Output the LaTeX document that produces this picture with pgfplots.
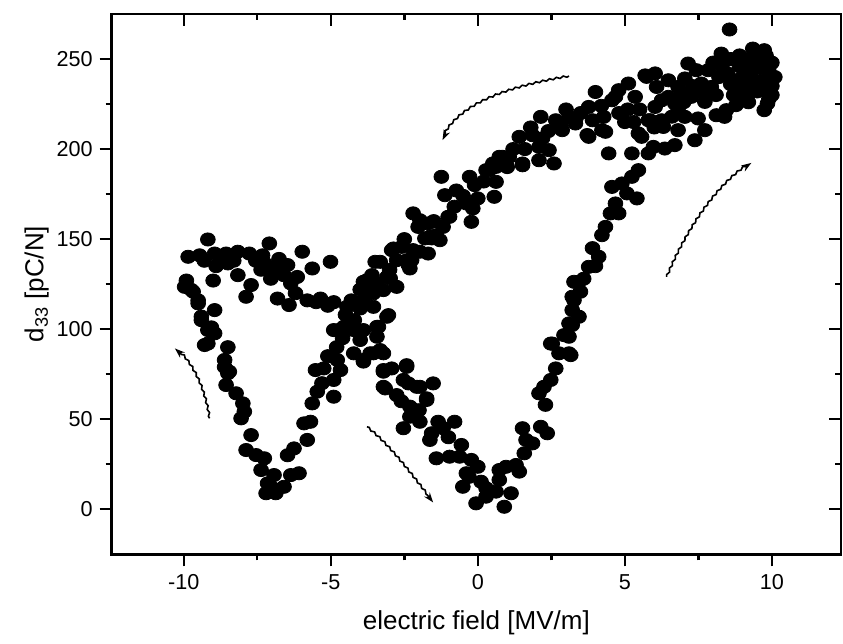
\documentclass[border=0pt]{standalone}
\usepackage{fontspec}
\setmainfont{Liberation Sans}
\usepackage{pgfplots}
\pgfplotsset{compat=1.18}
\usetikzlibrary{decorations.pathmorphing,arrows.meta}

\pgfplotsset{
  base/.style={
    width=364.65pt, height=270.15pt, scale only axis,
    xmin=-12.45, xmax=12.35, ymin=-25, ymax=275,
    xtick={-10,-5,...,10}, ytick={0,50,...,250},
    minor x tick num=1, minor y tick num=1,
    major tick length=6pt, minor tick length=3pt,
    every tick/.style={black, line width=1.2pt},
    axis line style={line width=1.2pt},
    /pgf/number format/assume math mode=true,
    tick label style={font=\fontsize{10.8}{12}\selectfont},
    label style={font=\fontsize{13}{15}\selectfont},
  },
}
\tikzset{
  wavy/.style={line width=0.8pt, -{Stealth[length=5pt,width=3.5pt]},
    decorate, decoration={snake, amplitude=0.45pt, segment length=3.5pt, post length=3pt}},
}

\begin{document}
\begin{tikzpicture}
\begin{axis}[base,
  tick align=outside, xtick pos=left, ytick pos=left,
  xlabel={electric field [MV/m]},
  ylabel={d\textsubscript{33} [pC/N]},
  xticklabel style={yshift=-0.5pt},
  xlabel style={yshift=-3.5pt},
  ylabel style={yshift=-3pt},
]
\addplot[only marks, mark=*, mark size=3.3pt, mark options={xscale=1.12, fill=black, draw=black}] coordinates {
% left loop, upper branch
(-9.18,149.8)(-9.85,140.2)(-9.46,141)(-8.95,142)(-8.56,142)(-8.16,143)(-7.77,142)(-8.5,136.5)
(-8.16,130)(-8.78,137)(-7.09,147.6)(-7.32,141)(-7.37,133)(-7.04,128)(-6.76,139)(-6.47,135.6)
(-5.97,143)(-5.63,133.7)(-5.01,137.4)(-7.71,124.5)(-7.88,118)(-6.81,117)(-6.36,125.4)(-6.14,129)
(-6.42,113.4)(-5.8,116)(-5.35,117)(-4.9,115)(-4.45,112.4)(-4.0,111.5)(-9.0,127)(-9.3,138)
(-8.9,135)(-8.3,138)(-7.55,138)(-7.2,136)(-6.9,133)(-6.6,130)(-6.2,120)(-5.5,115)(-5.1,113)
% left loop, descending
(-9.91,127)(-9.97,123.5)(-9.74,121.8)(-9.68,120.8)(-9.51,116)(-9.51,114.3)(-9.4,107)(-9.4,105)
(-9.06,101)(-8.95,110.6)(-9.18,92)(-9.18,99.5)(-9.29,91.2)(-8.95,97.7)(-8.5,90)(-8.61,82.9)
(-8.61,79)(-8.5,75.5)(-8.45,76.4)(-8.56,69)(-8.22,64.4)(-7.99,58.8)(-7.94,54.2)(-8.05,50.5)
(-7.71,41.2)(-7.88,32.9)(-7.54,30.1)(-7.26,28.3)(-7.37,21.8)(-6.93,19)(-7.15,14.4)(-7.2,8.9)
(-6.87,8.9)(-6.59,12.5)(-7.0,12)
% left loop, ascending
(-6.36,19)(-6.08,20)(-6.47,30)(-6.25,33.8)(-5.8,38.5)(-5.91,47.7)(-5.69,48.6)(-5.63,58.8)
(-5.46,65.3)(-4.9,62.5)(-4.9,71.8)(-5.52,77.3)(-5.24,78.2)(-4.67,77.3)(-3.89,82)(-5.3,70)
(-5.1,85)(-4.8,90)(-4.6,95)
% crossing
(-4.73,99.5)(-4.33,101)(-3.89,99.5)(-4.78,82.9)(-4.9,99.5)(-4.56,101.3)(-4.22,99.5)(-4.0,94)
(-4.22,86.6)(-3.89,82.9)(-3.55,86.6)(-3.21,86.6)(-3.43,95.8)(-3.09,106.9)(-3.43,101.3)(-3.66,86.6)
(-3.32,88.4)(-3.38,101.3)(-3.89,116.1)(-3.04,107.8)(-3.55,112.4)(-3.55,119.9)(-4.2,105)(-4.5,108)
(-4.0,122)(-4.3,116)
% rising branch
(-3.49,137.4)(-3.77,126)(-3.89,126.3)(-3.43,125.4)(-3.09,129)(-2.98,128.2)(-2.76,123.5)(-3.21,121.7)
(-3.77,127.2)(-3.32,137.4)(-2.76,138.3)(-2.36,135.6)(-2.93,143.9)(-2.59,145.7)(-2.2,143.9)(-1.69,142)
(-1.8,150.4)(-2.03,156.8)(-1.97,160.5)(-2.2,164.3)(-1.57,150.4)(-1.41,152.2)(-1.18,156.8)(-1.01,162.4)
(-1.24,184.6)(-0.73,177)(-1.12,174.4)(-0.28,184.6)(-0.11,180)(0,172.6)(-0.39,169.8)(-0.17,167)
(-0.22,159.6)(0.56,173.5)(0.28,188.3)(0.51,192)(0.73,195.7)(1.07,195.7)(1.52,191)(2.08,193.8)
(2.59,192)(0.62,181.8)(-1.63,151.4)(-1.29,149.4)(-2.87,144.8)(-2.25,138.3)(-0.96,162.4)(-1.97,143)
(-1.69,158.7)(-2.42,138.3)(-2.31,133.7)(0.62,190.1)(0.39,188.3)(0.84,195.7)(0.96,192)(1.52,192)
(1.41,206.8)(1.86,207.7)(2.08,201.2)(2.42,199.4)(2.14,217.9)(2.65,216)(3.1,217.9)(2.87,210.5)
(3.32,214.2)(3.77,206.8)(4.0,231.7)(3.77,223.4)(4.22,210.5)(4.45,197.6)(4.68,229)(5.57,206.8)
(5.69,240.9)(3.32,216)(3.72,207.8)(4.34,209.6)(4.28,217.9)(4.56,227.1)(4.79,232.7)(5.12,236.4)
(5.35,229)(1.2,200)(1.8,212)(2.4,210)(3.5,220)
(-3.0,133)(-3.6,130)(-2.5,150)(-1.5,160)(-0.8,168)(-0.5,174)(0.2,182)(1.0,190)(1.6,200)(2.2,206)
(2.8,214)(3.0,222)(3.9,216)(4.2,224)
% top right cluster
(8.56,266.4)(8.28,253)(9.35,255.8)(9.74,254.9)(9.97,247.5)(10.02,239.2)(9.85,231.7)(9.74,221.6)
(9.24,232.7)(8.78,224.4)(8.39,217.9)(8.45,221.6)(8.11,218.8)(8.84,238.2)(8.5,242)(7.83,243.8)
(7.15,247.5)(7.43,243.8)(7.6,236.4)(7.94,234.5)(7.04,239.2)(6.81,234.5)(6.48,238.2)(6.03,242)
(5.74,240.1)(6.08,234.5)(6.25,227.1)(6.48,229)(6.93,230.8)(7.26,229)(7.72,226.2)(7.49,217)
(7.04,217.9)(6.81,221.6)(6.7,225.3)(6.03,223.4)(5.86,216)(6.25,216)(6.31,212.3)(6.81,210.5)
(6.7,202.2)(6.36,200.3)(5.97,201.2)(5.8,197.6)(5.46,208.7)(5.8,216)(7.38,204.9)(7.72,210.5)
(8.39,219.7)(9.85,225.3)(9.2,250)(9.5,252)(9.8,252)(10,248)(9.9,243)(10.1,240)(9.6,245)(9.3,243)
(9.7,238)(10,235)(9.5,232)(9.1,236)(9.9,228)(8.9,246)(8.2,240)(8.7,230)(9.0,228)(7.3,235)
(5.5,222)(5.0,215)(4.8,220)
(8.0,248)(8.3,246)(8.6,250)(8.9,252)(9.0,240)(9.3,248)(9.6,250)(9.4,238)(8.6,236)(8.1,230)
(7.8,230)(7.5,232)(10.0,230)(9.2,226)(8.9,233)(7.0,226)(6.6,218)(6.0,212)(5.3,215)(5.1,222)
% right rising branch
(5.24,197.6)(5.46,188.3)(5.24,184.6)(4.9,180.9)(4.56,179)(5.07,175.4)(5.41,172.6)(4.68,169.8)
(4.51,164.3)(4.79,164.3)(4.34,156.8)(4.22,152.2)(4.11,140.2)(3.77,134.6)(3.44,126.3)(3.49,120.8)
(3.27,116.1)(3.44,106.9)(3.21,102.3)(3.1,95.8)(3.16,85.6)(3.27,126.3)(3.21,118)(3.21,110.6)
(3.1,103.2)(2.93,96.7)(2.48,92)(2.53,92)(2.76,86.6)(3.1,86.6)(2.65,78.2)(2.48,71.8)(2.25,68)
(2.08,64.4)(2.14,45.8)(2.36,42.2)(1.86,36.6)(1.52,45)(1.64,38.5)(1.58,31.1)(1.41,20.9)(1.3,24.6)
(0.96,23.6)(0.73,21.8)(0.73,16.3)(3.9,145)(4.0,135)(3.6,128)(2.3,58)
% middle descending branch
(-3.21,76.4)(-2.93,78.2)(-2.42,80)(-3.15,67.1)(-2.76,63.4)(-2.36,69.9)(-1.97,68)(-1.52,69.9)
(-1.74,61.6)(-2.25,56)(-2.31,51.4)(-1.97,48.6)(-2.53,45)(-1.35,48.6)(-0.79,48.6)(-1.57,42.2)
(-1.18,45)(-1.63,38.5)(-0.56,35.7)(-1.41,28.3)(-0.96,29.2)(-0.62,29.2)(-0.22,27.4)(0,23.6)
(-0.39,20)(-0.51,12.5)(0.11,15.3)(0.28,11.7)(-0.06,3.3)(0.28,7)(0.62,9.8)(1.13,8.9)(0.9,1.4)
(-3.21,77.3)(-2.42,79.1)(-3.21,68)(-2.53,71.8)(-2.08,68)(-2.31,57)(-1.74,60.7)(-2.6,60)(-2.0,55)
(-1.0,40)(-0.3,18)
};
% direction arrows
\draw[wavy] (axis cs:3.1,240.6) .. controls (axis cs:0.8,234) and (axis cs:-0.7,224) .. (axis cs:-1.2,205);
\draw[wavy] (axis cs:6.42,129) .. controls (axis cs:6.9,148) and (axis cs:7.9,178) .. (axis cs:9.3,192.3);
\draw[wavy] (axis cs:-9.12,50.5) .. controls (axis cs:-9.25,64) and (axis cs:-9.6,80) .. (axis cs:-10.3,89.3);
\draw[wavy] (axis cs:-3.77,45.8) .. controls (axis cs:-3.0,36) and (axis cs:-2.2,18) .. (axis cs:-1.52,3.8);
\coordinate (sw) at (rel axis cs:0,0);
\coordinate (ne) at (rel axis cs:1,1);
\end{axis}
\begin{axis}[base,
  tick align=inside, xtick pos=right, ytick pos=right,
  xticklabels={}, yticklabels={},
  axis line style={draw=none},
]
\end{axis}
\pgfresetboundingbox
\path ([xshift=-55.85pt,yshift=-44.85pt]sw) rectangle ([xshift=1pt,yshift=7pt]ne);
\end{tikzpicture}
\end{document}
